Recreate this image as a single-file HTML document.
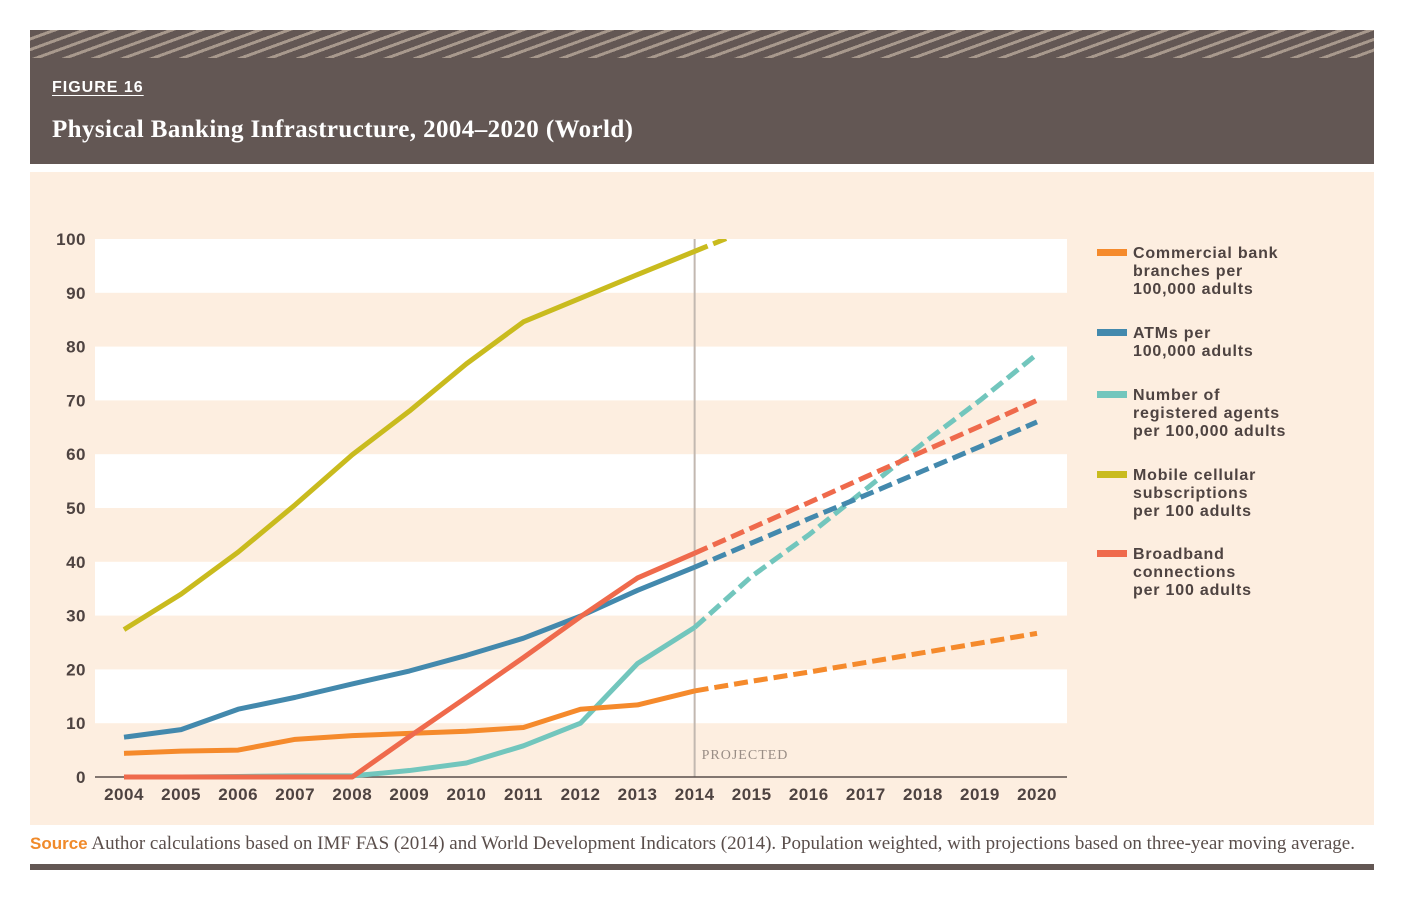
<!DOCTYPE html>
<html><head><meta charset="utf-8">
<style>
body{margin:0;width:1404px;height:900px;background:#fff;font-family:"Liberation Sans",sans-serif;position:relative;overflow:hidden}
.hdr{position:absolute;left:30px;top:30px;width:1344px;height:134px;background:#635754}
.stripes{position:absolute;left:0;top:0;width:100%;height:28px;background:repeating-linear-gradient(160deg,#635754 0 7px,#a8998d 7px 10px)}
.fig{position:absolute;left:22px;top:49px;color:#fff;font-weight:bold;font-size:16px;letter-spacing:1px;text-decoration:underline;text-underline-offset:3px}
.ttl{position:absolute;left:22px;top:86px;color:#fff;font-family:"Liberation Serif",serif;font-weight:bold;font-size:25px;letter-spacing:0.4px}
.panel{position:absolute;left:30px;top:172px;width:1344px;height:653px;background:#fdeee0}
.src{position:absolute;left:30px;top:833px;font-family:"Liberation Serif",serif;font-size:19px;color:#5a4e4b;white-space:nowrap}
.src b{color:#f08a2a;font-family:"Liberation Sans",sans-serif;font-size:17px}
.foot{position:absolute;left:30px;top:864px;width:1344px;height:6px;background:#635754}
</style></head><body>
<div class="hdr">
<div class="stripes"></div>
<div class="fig">FIGURE 16</div>
<div class="ttl">Physical Banking Infrastructure, 2004–2020 (World)</div>
</div>
<div class="panel"></div>
<svg id="chart" width="1404" height="900" style="position:absolute;left:0;top:0"></svg>
<div class="src"><b>Source</b> Author calculations based on IMF FAS (2014) and World Development Indicators (2014). Population weighted, with projections based on three-year moving average.</div>
<div class="foot"></div>
<script>
const years=[2004,2005,2006,2007,2008,2009,2010,2011,2012,2013,2014,2015,2016,2017,2018,2019,2020];
const yTicks=[0,10,20,30,40,50,60,70,80,90,100];
const branches=[4.4,4.8,5,7,7.7,8.1,8.5,9.2,12.6,13.4,16,17.8,19.5,21.3,23.1,24.9,26.7];
const atms=[7.4,8.8,12.6,14.8,17.3,19.7,22.6,25.8,29.9,34.7,39,43.5,48,52.4,56.9,61.4,66];
const agents=[0,0,0.1,0.2,0.2,1.2,2.6,5.8,10,21.1,27.8,37.3,45,53.5,62,70,78.6];
const mobile=[27.4,34,41.8,50.6,59.9,68,76.8,84.6,89,93.4,97.7,102,106,110,114,118,122];
const broadband=[0,0,0,0,0,7.5,14.8,22.2,29.8,37,41.6,46.3,51,55.8,60.5,65.2,70];
const projYear=2014;
const series=[
 {name:'branches',vals:branches,color:'#f58a2c',label:['Commercial bank','branches per','100,000 adults']},
 {name:'atms',vals:atms,color:'#4389ad',label:['ATMs per','100,000 adults']},
 {name:'agents',vals:agents,color:'#72c6bd',label:['Number of','registered agents','per 100,000 adults']},
 {name:'mobile',vals:mobile,color:'#c9bb1e',label:['Mobile cellular','subscriptions','per 100 adults']},
 {name:'broadband',vals:broadband,color:'#ef6a4c',label:['Broadband','connections','per 100 adults']}
];
const drawOrder=[3,2,0,1,4];
const X=y=>124+(y-2004)*(1037-124)/16;
const Y=v=>777-v*5.38;
const svg=document.getElementById('chart');
const NS='http://www.w3.org/2000/svg';
function mk(t,a){const e=document.createElementNS(NS,t);for(const k in a)e.setAttribute(k,a[k]);svg.appendChild(e);return e;}
const defs=mk('defs',{});
const cp=document.createElementNS(NS,'clipPath');cp.setAttribute('id','clip');
const cr=document.createElementNS(NS,'rect');cr.setAttribute('x',90);cr.setAttribute('y',Y(100));cr.setAttribute('width',1000);cr.setAttribute('height',600);
cp.appendChild(cr);defs.appendChild(cp);
for(let i=0;i<10;i++){
 if(i%2===1){const b=mk('rect',{x:95,y:Y(yTicks[i+1]),width:972,height:Y(yTicks[i])-Y(yTicks[i+1]),fill:'#fff'});
 }
}
yTicks.forEach(t=>{const e=mk('text',{x:86,y:Y(t)+6,'text-anchor':'end','font-size':17,'font-weight':'bold',fill:'#4e4341','font-family':'Liberation Sans,sans-serif','letter-spacing':0.5});e.textContent=t;
});
years.forEach(y=>{const e=mk('text',{x:X(y),y:800,'text-anchor':'middle','font-size':17,'font-weight':'bold',fill:'#4e4341','font-family':'Liberation Sans,sans-serif','letter-spacing':0.5});e.textContent=y;
});
const pl=mk('line',{x1:X(projYear),x2:X(projYear),y1:Y(100),y2:Y(0),stroke:'#c2b8b0','stroke-width':2});

const pt=mk('text',{x:X(projYear)+7,y:759,'font-size':14,fill:'#9a8e86','font-family':'Liberation Serif,serif','letter-spacing':1});pt.textContent='PROJECTED';

const ax=mk('line',{x1:95,x2:1067,y1:Y(0),y2:Y(0),stroke:'#5a4e4b','stroke-width':1.5});

const pi=years.indexOf(projYear);
drawOrder.forEach(si=>{const s=series[si];
 const solid=s.vals.slice(0,pi+1).map((v,i)=>X(years[i])+','+Y(v)).join(' ');
 const dash=s.vals.slice(pi).map((v,i)=>X(years[i+pi])+','+Y(v)).join(' ');
 const a=mk('polyline',{points:solid,fill:'none',stroke:s.color,'stroke-width':5,'stroke-linejoin':'round','clip-path':'url(#clip)'});
 
 const b=mk('polyline',{points:dash,fill:'none',stroke:s.color,'stroke-width':5,'stroke-dasharray':'14 6','clip-path':'url(#clip)'});
 
});
const ly=[252,332,394,474,553];
series.forEach((s,i)=>{
 const r=mk('rect',{x:1097,y:ly[i]-3,width:30,height:7,fill:s.color});
 
 s.label.forEach((l,j)=>{const t=mk('text',{x:1133,y:ly[i]+6+j*18,'font-size':16,'font-weight':'bold',fill:'#4e4341','font-family':'Liberation Sans,sans-serif','letter-spacing':0.8});t.textContent=l;
 });
});
</script>
</body></html>
